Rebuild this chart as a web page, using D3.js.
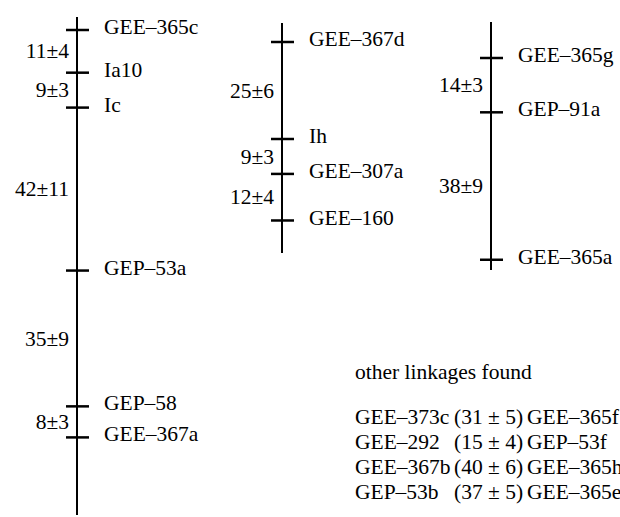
<!DOCTYPE html>
<html>
<head>
<meta charset="utf-8">
<script src="https://cdn.jsdelivr.net/npm/d3@7"></script>
<style>
  body { margin: 0; background: #fff; }
</style>
</head>
<body>
<svg id="chart" width="620" height="517"></svg>
<script>
// linkage group 1
const markers1 = ["GEE–365c", "Ia10", "Ic", "GEP–53a", "GEP–58", "GEE–367a"];
const dist1 = [11, 9, 42, 35, 8];
const err1 = [4, 3, 11, 9, 3];

// linkage group 2
const markers2 = ["GEE–367d", "Ih", "GEE–307a", "GEE–160"];
const dist2 = [25, 9, 12];
const err2 = [6, 3, 4];

// linkage group 3
const markers3 = ["GEE–365g", "GEP–91a", "GEE–365a"];
const dist3 = [14, 38];
const err3 = [3, 9];

// other linkages
const otherFrom = ["GEE–373c", "GEE–292", "GEE–367b", "GEP–53b"];
const otherDist = [31, 15, 40, 37];
const otherErr = [5, 4, 6, 5];
const otherTo = ["GEE–365f", "GEP–53f", "GEE–365h", "GEE–365e"];

// layout (pixels)
const pxPerCM = 3.88;
const fontSize = 21.5;
const groups = [
    {markers: markers1, dist: dist1, err: err1, x: 77, y0: 30, top: 17, bottom: 515},
    {markers: markers2, dist: dist2, err: err2, x: 282, y0: 42, top: 23, bottom: 253},
    {markers: markers3, dist: dist3, err: err3, x: 491, y0: 58, top: 22, bottom: 270}
];

const svg = d3.select("#chart");

// text centred on y: shift baseline down by ~1/3 em
function addText(x, y, str, anchor){
    return svg.append("text")
        .attr("x", x).attr("y", y + fontSize * 0.33)
        .attr("font-size", fontSize)
        .attr("text-anchor", anchor || "start")
        .style("font-family", "'Liberation Serif'")
        .text(str);
}

groups.forEach(function(g){
    let pos = [0];
    g.dist.forEach(d => pos.push(pos[pos.length-1] + d));
    let total = pos[pos.length-1];
    let y = d3.scaleLinear().domain([0, total]).range([g.y0, g.y0 + total*pxPerCM]);

    svg.append("line")
        .attr("x1", g.x).attr("x2", g.x)
        .attr("y1", g.top).attr("y2", g.bottom)
        .attr("stroke", "#000")
        .attr("stroke-width", 2);

    pos.forEach(function(p){
        svg.append("line")
            .attr("x1", g.x - 11).attr("x2", g.x + 12)
            .attr("y1", y(p)).attr("y2", y(p))
            .attr("stroke", "#000")
            .attr("stroke-width", 2.5);
    });

    g.markers.forEach(function(m, i){
        addText(g.x + 27, y(pos[i]) - 3, m);
    });

    g.dist.forEach(function(d, i){
        addText(g.x - 8, y((pos[i] + pos[i+1]) / 2), d + "±" + g.err[i], "end");
    });
});

// other linkages list
addText(355, 372, "other linkages found");

const rowY = d3.scalePoint().domain(d3.range(otherFrom.length)).range([417, 492]);

otherFrom.forEach(function(name, i){
    let yy = rowY(i);
    addText(355, yy, name);
    addText(454, yy, "(" + otherDist[i] + " ± " + otherErr[i] + ")");
    addText(527, yy, otherTo[i]);
});
</script>
</body>
</html>
